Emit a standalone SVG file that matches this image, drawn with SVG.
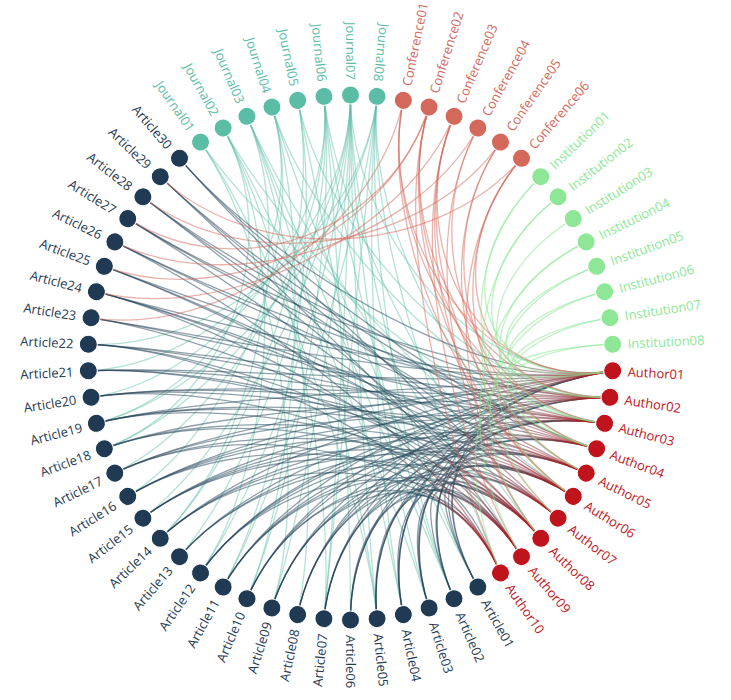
<svg xmlns="http://www.w3.org/2000/svg" width="731" height="700" viewBox="0 0 731 700">
<defs>
<linearGradient id="gAA" x1="0" y1="0" x2="1" y2="0">
<stop offset="0" stop-color="#1f3b54"/><stop offset="0.72" stop-color="#27505f"/><stop offset="1" stop-color="#c0141c"/>
</linearGradient>
<style>
text{font-family:"Open Sans","Liberation Sans",sans-serif;font-size:13px;dominant-baseline:central}
.f{text-anchor:end}
circle{stroke:#fff;stroke-width:1}
.art circle{fill:#1f3a52}.art text{fill:#1f3a52}
.jou circle{fill:#5bbda5}.jou text{fill:#5bbda5}
.con circle{fill:#d4685a}.con text{fill:#d4685a}
.ins circle{fill:#8de796}.ins text{fill:#8de796}
.aut circle{fill:#c0141c}.aut text{fill:#c0141c}
#links path{fill:none;stroke-width:1.3}
#lj path{stroke:#5bbda5;stroke-opacity:.45}
#la path{stroke:url(#gAA);stroke-opacity:.5}
#lc path{stroke:#d4685a;stroke-opacity:.5}
#li path{stroke:#8de796;stroke-opacity:.55}
</style>
</defs>
<rect width="731" height="700" fill="#fff"/>
<g id="links">
<g id="lj">
<path d="M200.5 142.1C275.5 249.8 363.8 488.1 377.1 618.7"/>
<path d="M200.5 142.1C275.5 249.8 311.2 482.8 271.9 608"/>
<path d="M200.5 142.1C275.5 249.8 469.4 412.1 596.7 448.7"/>
<path d="M223.1 128C286.8 242.8 389.8 482.8 429.1 608"/>
<path d="M223.1 128C286.8 242.8 337.2 488.1 323.9 618.7"/>
<path d="M223.1 128C286.8 242.8 275.5 465.2 200.5 572.9"/>
<path d="M223.1 128C286.8 242.8 463.5 424 573.3 496.4"/>
<path d="M223.1 128C286.8 242.8 227.4 403.1 104.3 448.7"/>
<path d="M247 116.3C298.8 236.9 402.3 478.1 454 598.7"/>
<path d="M247 116.3C298.8 236.9 324.1 486.1 297.7 614.6"/>
<path d="M247 116.3C298.8 236.9 255.4 448 160.2 538.4"/>
<path d="M247 116.3C298.8 236.9 450.6 439.1 521.5 556.7"/>
<path d="M247 116.3C298.8 236.9 363.8 488.1 377.1 618.7"/>
<path d="M271.9 107C311.2 232.3 414.2 472.3 477.9 587"/>
<path d="M271.9 107C311.2 232.3 298.8 478.1 247 598.7"/>
<path d="M271.9 107C311.2 232.3 239.1 427 127.7 496.4"/>
<path d="M271.9 107C311.2 232.3 223.5 390.4 96.4 423.3"/>
<path d="M271.9 107C311.2 232.3 471.4 405.7 604.6 423.3"/>
<path d="M297.7 100.4C324.1 229 376.9 486.1 403.3 614.6"/>
<path d="M297.7 100.4C324.1 229 286.8 472.3 223.1 587"/>
<path d="M297.7 100.4C324.1 229 472.7 399.2 610 397.3"/>
<path d="M297.7 100.4C324.1 229 255.4 448 160.2 538.4"/>
<path d="M323.9 96.3C337.2 226.9 350.5 488.8 350.5 620"/>
<path d="M323.9 96.3C337.2 226.9 265 457.1 179.5 556.7"/>
<path d="M323.9 96.3C337.2 226.9 232.7 415.3 114.8 473.1"/>
<path d="M323.9 96.3C337.2 226.9 220.8 377.4 91 397.3"/>
<path d="M323.9 96.3C337.2 226.9 455.4 434.5 540.8 538.4"/>
<path d="M323.9 96.3C337.2 226.9 402.3 478.1 454 598.7"/>
<path d="M323.9 96.3C337.2 226.9 298.8 478.1 247 598.7"/>
<path d="M350.5 95C350.5 226.3 414.2 472.3 477.9 587"/>
<path d="M350.5 95C350.5 226.3 389.8 482.8 429.1 608"/>
<path d="M350.5 95C350.5 226.3 363.8 488.1 377.1 618.7"/>
<path d="M350.5 95C350.5 226.3 311.2 482.8 271.9 608"/>
<path d="M350.5 95C350.5 226.3 246.7 437.8 142.9 518.1"/>
<path d="M350.5 95C350.5 226.3 227.4 403.1 104.3 448.7"/>
<path d="M350.5 95C350.5 226.3 219.4 364.2 88.3 370.8"/>
<path d="M350.5 95C350.5 226.3 473.4 392.6 612.7 370.8"/>
<path d="M350.5 95C350.5 226.3 337.2 488.1 323.9 618.7"/>
<path d="M350.5 95C350.5 226.3 275.5 465.2 200.5 572.9"/>
<path d="M377.1 96.3C363.8 226.9 402.3 478.1 454 598.7"/>
<path d="M377.1 96.3C363.8 226.9 337.2 488.1 323.9 618.7"/>
<path d="M377.1 96.3C363.8 226.9 286.8 472.3 223.1 587"/>
<path d="M377.1 96.3C363.8 226.9 219.4 350.9 88.3 344.2"/>
<path d="M377.1 96.3C363.8 226.9 466.8 418.2 586.2 473.1"/>
<path d="M377.1 96.3C363.8 226.9 445.3 443.1 500.5 572.9"/>
<path d="M377.1 96.3C363.8 226.9 376.9 486.1 403.3 614.6"/>
<path d="M377.1 96.3C363.8 226.9 223.5 390.4 96.4 423.3"/>
</g>
<g id="la">
<path d="M477.9 587C414.2 472.3 471.4 405.7 604.6 423.3"/>
<path d="M477.9 587C414.2 472.3 459.7 429.4 558.1 518.1"/>
<path d="M477.9 587C414.2 472.3 450.6 439.1 521.5 556.7"/>
<path d="M477.9 587C414.2 472.3 473.4 392.6 612.7 370.8"/>
<path d="M454 598.7C402.3 478.1 473.4 392.6 612.7 370.8"/>
<path d="M454 598.7C402.3 478.1 466.8 418.2 586.2 473.1"/>
<path d="M454 598.7C402.3 478.1 445.3 443.1 500.5 572.9"/>
<path d="M454 598.7C402.3 478.1 471.4 405.7 604.6 423.3"/>
<path d="M429.1 608C389.8 482.8 472.7 399.2 610 397.3"/>
<path d="M429.1 608C389.8 482.8 469.4 412.1 596.7 448.7"/>
<path d="M429.1 608C389.8 482.8 455.4 434.5 540.8 538.4"/>
<path d="M429.1 608C389.8 482.8 463.5 424 573.3 496.4"/>
<path d="M403.3 614.6C376.9 486.1 473.4 392.6 612.7 370.8"/>
<path d="M403.3 614.6C376.9 486.1 463.5 424 573.3 496.4"/>
<path d="M403.3 614.6C376.9 486.1 450.6 439.1 521.5 556.7"/>
<path d="M403.3 614.6C376.9 486.1 472.7 399.2 610 397.3"/>
<path d="M377.1 618.7C363.8 488.1 471.4 405.7 604.6 423.3"/>
<path d="M377.1 618.7C363.8 488.1 466.8 418.2 586.2 473.1"/>
<path d="M377.1 618.7C363.8 488.1 459.7 429.4 558.1 518.1"/>
<path d="M377.1 618.7C363.8 488.1 450.6 439.1 521.5 556.7"/>
<path d="M350.5 620C350.5 488.8 472.7 399.2 610 397.3"/>
<path d="M350.5 620C350.5 488.8 455.4 434.5 540.8 538.4"/>
<path d="M350.5 620C350.5 488.8 445.3 443.1 500.5 572.9"/>
<path d="M350.5 620C350.5 488.8 469.4 412.1 596.7 448.7"/>
<path d="M323.9 618.7C337.2 488.1 473.4 392.6 612.7 370.8"/>
<path d="M323.9 618.7C337.2 488.1 469.4 412.1 596.7 448.7"/>
<path d="M323.9 618.7C337.2 488.1 463.5 424 573.3 496.4"/>
<path d="M323.9 618.7C337.2 488.1 450.6 439.1 521.5 556.7"/>
<path d="M297.7 614.6C324.1 486.1 471.4 405.7 604.6 423.3"/>
<path d="M297.7 614.6C324.1 486.1 450.6 439.1 521.5 556.7"/>
<path d="M297.7 614.6C324.1 486.1 473.4 392.6 612.7 370.8"/>
<path d="M297.7 614.6C324.1 486.1 463.5 424 573.3 496.4"/>
<path d="M271.9 608C311.2 482.8 472.7 399.2 610 397.3"/>
<path d="M271.9 608C311.2 482.8 466.8 418.2 586.2 473.1"/>
<path d="M271.9 608C311.2 482.8 459.7 429.4 558.1 518.1"/>
<path d="M271.9 608C311.2 482.8 445.3 443.1 500.5 572.9"/>
<path d="M247 598.7C298.8 478.1 473.4 392.6 612.7 370.8"/>
<path d="M247 598.7C298.8 478.1 455.4 434.5 540.8 538.4"/>
<path d="M247 598.7C298.8 478.1 445.3 443.1 500.5 572.9"/>
<path d="M247 598.7C298.8 478.1 471.4 405.7 604.6 423.3"/>
<path d="M223.1 587C286.8 472.3 469.4 412.1 596.7 448.7"/>
<path d="M223.1 587C286.8 472.3 463.5 424 573.3 496.4"/>
<path d="M223.1 587C286.8 472.3 473.4 392.6 612.7 370.8"/>
<path d="M223.1 587C286.8 472.3 455.4 434.5 540.8 538.4"/>
<path d="M200.5 572.9C275.5 465.2 472.7 399.2 610 397.3"/>
<path d="M200.5 572.9C275.5 465.2 471.4 405.7 604.6 423.3"/>
<path d="M200.5 572.9C275.5 465.2 450.6 439.1 521.5 556.7"/>
<path d="M200.5 572.9C275.5 465.2 466.8 418.2 586.2 473.1"/>
<path d="M179.5 556.7C265 457.1 466.8 418.2 586.2 473.1"/>
<path d="M179.5 556.7C265 457.1 459.7 429.4 558.1 518.1"/>
<path d="M179.5 556.7C265 457.1 472.7 399.2 610 397.3"/>
<path d="M160.2 538.4C255.4 448 473.4 392.6 612.7 370.8"/>
<path d="M160.2 538.4C255.4 448 463.5 424 573.3 496.4"/>
<path d="M160.2 538.4C255.4 448 445.3 443.1 500.5 572.9"/>
<path d="M160.2 538.4C255.4 448 469.4 412.1 596.7 448.7"/>
<path d="M142.9 518.1C246.7 437.8 472.7 399.2 610 397.3"/>
<path d="M142.9 518.1C246.7 437.8 469.4 412.1 596.7 448.7"/>
<path d="M142.9 518.1C246.7 437.8 455.4 434.5 540.8 538.4"/>
<path d="M142.9 518.1C246.7 437.8 463.5 424 573.3 496.4"/>
<path d="M127.7 496.4C239.1 427 471.4 405.7 604.6 423.3"/>
<path d="M127.7 496.4C239.1 427 466.8 418.2 586.2 473.1"/>
<path d="M127.7 496.4C239.1 427 450.6 439.1 521.5 556.7"/>
<path d="M127.7 496.4C239.1 427 473.4 392.6 612.7 370.8"/>
<path d="M114.8 473.1C232.7 415.3 473.4 392.6 612.7 370.8"/>
<path d="M114.8 473.1C232.7 415.3 459.7 429.4 558.1 518.1"/>
<path d="M114.8 473.1C232.7 415.3 445.3 443.1 500.5 572.9"/>
<path d="M114.8 473.1C232.7 415.3 471.4 405.7 604.6 423.3"/>
<path d="M104.3 448.7C227.4 403.1 472.7 399.2 610 397.3"/>
<path d="M104.3 448.7C227.4 403.1 463.5 424 573.3 496.4"/>
<path d="M104.3 448.7C227.4 403.1 455.4 434.5 540.8 538.4"/>
<path d="M96.4 423.3C223.5 390.4 473.4 392.6 612.7 370.8"/>
<path d="M96.4 423.3C223.5 390.4 469.4 412.1 596.7 448.7"/>
<path d="M96.4 423.3C223.5 390.4 455.4 434.5 540.8 538.4"/>
<path d="M96.4 423.3C223.5 390.4 466.8 418.2 586.2 473.1"/>
<path d="M91 397.3C220.8 377.4 472.7 399.2 610 397.3"/>
<path d="M91 397.3C220.8 377.4 471.4 405.7 604.6 423.3"/>
<path d="M91 397.3C220.8 377.4 466.8 418.2 586.2 473.1"/>
<path d="M91 397.3C220.8 377.4 450.6 439.1 521.5 556.7"/>
<path d="M88.3 370.8C219.4 364.2 473.4 392.6 612.7 370.8"/>
<path d="M88.3 370.8C219.4 364.2 463.5 424 573.3 496.4"/>
<path d="M88.3 370.8C219.4 364.2 459.7 429.4 558.1 518.1"/>
<path d="M88.3 370.8C219.4 364.2 471.4 405.7 604.6 423.3"/>
<path d="M88.3 344.2C219.4 350.9 472.7 399.2 610 397.3"/>
<path d="M88.3 344.2C219.4 350.9 469.4 412.1 596.7 448.7"/>
<path d="M88.3 344.2C219.4 350.9 445.3 443.1 500.5 572.9"/>
<path d="M88.3 344.2C219.4 350.9 455.4 434.5 540.8 538.4"/>
<path d="M91 317.8C220.8 337.6 471.4 405.7 604.6 423.3"/>
<path d="M91 317.8C220.8 337.6 455.4 434.5 540.8 538.4"/>
<path d="M91 317.8C220.8 337.6 473.4 392.6 612.7 370.8"/>
<path d="M96.4 291.7C223.5 324.6 473.4 392.6 612.7 370.8"/>
<path d="M96.4 291.7C223.5 324.6 466.8 418.2 586.2 473.1"/>
<path d="M96.4 291.7C223.5 324.6 450.6 439.1 521.5 556.7"/>
<path d="M96.4 291.7C223.5 324.6 463.5 424 573.3 496.4"/>
<path d="M104.3 266.3C227.4 311.9 472.7 399.2 610 397.3"/>
<path d="M104.3 266.3C227.4 311.9 463.5 424 573.3 496.4"/>
<path d="M104.3 266.3C227.4 311.9 459.7 429.4 558.1 518.1"/>
<path d="M114.8 241.9C232.7 299.7 469.4 412.1 596.7 448.7"/>
<path d="M114.8 241.9C232.7 299.7 445.3 443.1 500.5 572.9"/>
<path d="M114.8 241.9C232.7 299.7 472.7 399.2 610 397.3"/>
<path d="M127.7 218.6C239.1 288.1 473.4 392.6 612.7 370.8"/>
<path d="M127.7 218.6C239.1 288.1 471.4 405.7 604.6 423.3"/>
<path d="M127.7 218.6C239.1 288.1 455.4 434.5 540.8 538.4"/>
<path d="M142.9 196.9C246.7 277.2 472.7 399.2 610 397.3"/>
<path d="M142.9 196.9C246.7 277.2 466.8 418.2 586.2 473.1"/>
<path d="M142.9 196.9C246.7 277.2 455.4 434.5 540.8 538.4"/>
<path d="M160.2 176.6C255.4 267.1 469.4 412.1 596.7 448.7"/>
<path d="M160.2 176.6C255.4 267.1 463.5 424 573.3 496.4"/>
<path d="M160.2 176.6C255.4 267.1 450.6 439.1 521.5 556.7"/>
<path d="M179.5 158.3C265 257.9 473.4 392.6 612.7 370.8"/>
<path d="M179.5 158.3C265 257.9 459.7 429.4 558.1 518.1"/>
<path d="M179.5 158.3C265 257.9 469.4 412.1 596.7 448.7"/>
</g>
<g id="lc">
<path d="M403.3 100.4C376.9 229 473.4 392.6 612.7 370.8"/>
<path d="M403.3 100.4C376.9 229 471.4 405.7 604.6 423.3"/>
<path d="M403.3 100.4C376.9 229 463.5 424 573.3 496.4"/>
<path d="M403.3 100.4C376.9 229 220.8 337.6 91 317.8"/>
<path d="M429.1 107C389.8 232.3 472.7 399.2 610 397.3"/>
<path d="M429.1 107C389.8 232.3 469.4 412.1 596.7 448.7"/>
<path d="M429.1 107C389.8 232.3 445.3 443.1 500.5 572.9"/>
<path d="M429.1 107C389.8 232.3 463.5 424 573.3 496.4"/>
<path d="M429.1 107C389.8 232.3 227.4 311.9 104.3 266.3"/>
<path d="M429.1 107C389.8 232.3 239.1 288.1 127.7 218.6"/>
<path d="M454 116.3C402.3 236.9 473.4 392.6 612.7 370.8"/>
<path d="M454 116.3C402.3 236.9 466.8 418.2 586.2 473.1"/>
<path d="M454 116.3C402.3 236.9 459.7 429.4 558.1 518.1"/>
<path d="M454 116.3C402.3 236.9 450.6 439.1 521.5 556.7"/>
<path d="M454 116.3C402.3 236.9 223.5 324.6 96.4 291.7"/>
<path d="M477.9 128C414.2 242.8 471.4 405.7 604.6 423.3"/>
<path d="M477.9 128C414.2 242.8 455.4 434.5 540.8 538.4"/>
<path d="M477.9 128C414.2 242.8 232.7 299.7 114.8 241.9"/>
<path d="M500.5 142.1C425.5 249.8 463.5 424 573.3 496.4"/>
<path d="M500.5 142.1C425.5 249.8 469.4 412.1 596.7 448.7"/>
<path d="M500.5 142.1C425.5 249.8 246.7 277.2 142.9 196.9"/>
<path d="M521.5 158.3C436 257.9 472.7 399.2 610 397.3"/>
<path d="M521.5 158.3C436 257.9 455.4 434.5 540.8 538.4"/>
<path d="M521.5 158.3C436 257.9 466.8 418.2 586.2 473.1"/>
<path d="M521.5 158.3C436 257.9 255.4 267.1 160.2 176.6"/>
</g>
<g id="li">
<path d="M540.8 176.6C445.7 267.1 473.4 392.6 612.7 370.8"/>
<path d="M540.8 176.6C445.7 267.1 466.8 418.2 586.2 473.1"/>
<path d="M558.1 196.9C454.3 277.2 472.7 399.2 610 397.3"/>
<path d="M558.1 196.9C454.3 277.2 459.7 429.4 558.1 518.1"/>
<path d="M573.3 218.6C461.9 288.1 471.4 405.7 604.6 423.3"/>
<path d="M586.2 241.9C468.4 299.7 469.4 412.1 596.7 448.7"/>
<path d="M586.2 241.9C468.4 299.7 450.6 439.1 521.5 556.7"/>
<path d="M596.7 266.3C473.6 311.9 473.4 392.6 612.7 370.8"/>
<path d="M596.7 266.3C473.6 311.9 463.5 424 573.3 496.4"/>
<path d="M604.6 291.7C477.6 324.6 455.4 434.5 540.8 538.4"/>
<path d="M604.6 291.7C477.6 324.6 472.7 399.2 610 397.3"/>
<path d="M610 317.8C480.3 337.6 445.3 443.1 500.5 572.9"/>
<path d="M610 317.8C480.3 337.6 471.4 405.7 604.6 423.3"/>
<path d="M612.7 344.2C481.6 350.9 473.4 392.6 612.7 370.8"/>
<path d="M612.7 344.2C481.6 350.9 469.4 412.1 596.7 448.7"/>
</g>
</g>
<g id="nodes">
<g id="Article06" class="art" transform="rotate(90 350.5 357.5)"><circle cx="613" cy="357.5" r="9"/><text x="628" y="357.5">Article06</text></g>
<g id="Article07" class="art" transform="rotate(95.81 350.5 357.5)"><circle cx="613" cy="357.5" r="9"/><text class="f" x="628" y="357.5" transform="rotate(180 628 357.5)">Article07</text></g>
<g id="Article08" class="art" transform="rotate(101.61 350.5 357.5)"><circle cx="613" cy="357.5" r="9"/><text class="f" x="628" y="357.5" transform="rotate(180 628 357.5)">Article08</text></g>
<g id="Article09" class="art" transform="rotate(107.42 350.5 357.5)"><circle cx="613" cy="357.5" r="9"/><text class="f" x="628" y="357.5" transform="rotate(180 628 357.5)">Article09</text></g>
<g id="Article10" class="art" transform="rotate(113.23 350.5 357.5)"><circle cx="613" cy="357.5" r="9"/><text class="f" x="628" y="357.5" transform="rotate(180 628 357.5)">Article10</text></g>
<g id="Article11" class="art" transform="rotate(119.03 350.5 357.5)"><circle cx="613" cy="357.5" r="9"/><text class="f" x="628" y="357.5" transform="rotate(180 628 357.5)">Article11</text></g>
<g id="Article12" class="art" transform="rotate(124.84 350.5 357.5)"><circle cx="613" cy="357.5" r="9"/><text class="f" x="628" y="357.5" transform="rotate(180 628 357.5)">Article12</text></g>
<g id="Article13" class="art" transform="rotate(130.65 350.5 357.5)"><circle cx="613" cy="357.5" r="9"/><text class="f" x="628" y="357.5" transform="rotate(180 628 357.5)">Article13</text></g>
<g id="Article14" class="art" transform="rotate(136.45 350.5 357.5)"><circle cx="613" cy="357.5" r="9"/><text class="f" x="628" y="357.5" transform="rotate(180 628 357.5)">Article14</text></g>
<g id="Article15" class="art" transform="rotate(142.26 350.5 357.5)"><circle cx="613" cy="357.5" r="9"/><text class="f" x="628" y="357.5" transform="rotate(180 628 357.5)">Article15</text></g>
<g id="Article16" class="art" transform="rotate(148.06 350.5 357.5)"><circle cx="613" cy="357.5" r="9"/><text class="f" x="628" y="357.5" transform="rotate(180 628 357.5)">Article16</text></g>
<g id="Article17" class="art" transform="rotate(153.87 350.5 357.5)"><circle cx="613" cy="357.5" r="9"/><text class="f" x="628" y="357.5" transform="rotate(180 628 357.5)">Article17</text></g>
<g id="Article18" class="art" transform="rotate(159.68 350.5 357.5)"><circle cx="613" cy="357.5" r="9"/><text class="f" x="628" y="357.5" transform="rotate(180 628 357.5)">Article18</text></g>
<g id="Article19" class="art" transform="rotate(165.48 350.5 357.5)"><circle cx="613" cy="357.5" r="9"/><text class="f" x="628" y="357.5" transform="rotate(180 628 357.5)">Article19</text></g>
<g id="Article20" class="art" transform="rotate(171.29 350.5 357.5)"><circle cx="613" cy="357.5" r="9"/><text class="f" x="628" y="357.5" transform="rotate(180 628 357.5)">Article20</text></g>
<g id="Article21" class="art" transform="rotate(177.10 350.5 357.5)"><circle cx="613" cy="357.5" r="9"/><text class="f" x="628" y="357.5" transform="rotate(180 628 357.5)">Article21</text></g>
<g id="Article22" class="art" transform="rotate(182.90 350.5 357.5)"><circle cx="613" cy="357.5" r="9"/><text class="f" x="628" y="357.5" transform="rotate(180 628 357.5)">Article22</text></g>
<g id="Article23" class="art" transform="rotate(188.71 350.5 357.5)"><circle cx="613" cy="357.5" r="9"/><text class="f" x="628" y="357.5" transform="rotate(180 628 357.5)">Article23</text></g>
<g id="Article24" class="art" transform="rotate(194.52 350.5 357.5)"><circle cx="613" cy="357.5" r="9"/><text class="f" x="628" y="357.5" transform="rotate(180 628 357.5)">Article24</text></g>
<g id="Article25" class="art" transform="rotate(200.32 350.5 357.5)"><circle cx="613" cy="357.5" r="9"/><text class="f" x="628" y="357.5" transform="rotate(180 628 357.5)">Article25</text></g>
<g id="Article26" class="art" transform="rotate(206.13 350.5 357.5)"><circle cx="613" cy="357.5" r="9"/><text class="f" x="628" y="357.5" transform="rotate(180 628 357.5)">Article26</text></g>
<g id="Article27" class="art" transform="rotate(211.94 350.5 357.5)"><circle cx="613" cy="357.5" r="9"/><text class="f" x="628" y="357.5" transform="rotate(180 628 357.5)">Article27</text></g>
<g id="Article28" class="art" transform="rotate(217.74 350.5 357.5)"><circle cx="613" cy="357.5" r="9"/><text class="f" x="628" y="357.5" transform="rotate(180 628 357.5)">Article28</text></g>
<g id="Article29" class="art" transform="rotate(223.55 350.5 357.5)"><circle cx="613" cy="357.5" r="9"/><text class="f" x="628" y="357.5" transform="rotate(180 628 357.5)">Article29</text></g>
<g id="Article30" class="art" transform="rotate(229.35 350.5 357.5)"><circle cx="613" cy="357.5" r="9"/><text class="f" x="628" y="357.5" transform="rotate(180 628 357.5)">Article30</text></g>
<g id="Journal01" class="jou" transform="rotate(235.16 350.5 357.5)"><circle cx="613" cy="357.5" r="9"/><text class="f" x="628" y="357.5" transform="rotate(180 628 357.5)">Journal01</text></g>
<g id="Journal02" class="jou" transform="rotate(240.97 350.5 357.5)"><circle cx="613" cy="357.5" r="9"/><text class="f" x="628" y="357.5" transform="rotate(180 628 357.5)">Journal02</text></g>
<g id="Journal03" class="jou" transform="rotate(246.77 350.5 357.5)"><circle cx="613" cy="357.5" r="9"/><text class="f" x="628" y="357.5" transform="rotate(180 628 357.5)">Journal03</text></g>
<g id="Journal04" class="jou" transform="rotate(252.58 350.5 357.5)"><circle cx="613" cy="357.5" r="9"/><text class="f" x="628" y="357.5" transform="rotate(180 628 357.5)">Journal04</text></g>
<g id="Journal05" class="jou" transform="rotate(258.39 350.5 357.5)"><circle cx="613" cy="357.5" r="9"/><text class="f" x="628" y="357.5" transform="rotate(180 628 357.5)">Journal05</text></g>
<g id="Journal06" class="jou" transform="rotate(264.19 350.5 357.5)"><circle cx="613" cy="357.5" r="9"/><text class="f" x="628" y="357.5" transform="rotate(180 628 357.5)">Journal06</text></g>
<g id="Journal07" class="jou" transform="rotate(270 350.5 357.5)"><circle cx="613" cy="357.5" r="9"/><text class="f" x="628" y="357.5" transform="rotate(180 628 357.5)">Journal07</text></g>
<g id="Journal08" class="jou" transform="rotate(275.81 350.5 357.5)"><circle cx="613" cy="357.5" r="9"/><text class="f" x="628" y="357.5" transform="rotate(180 628 357.5)">Journal08</text></g>
<g id="Conference01" class="con" transform="rotate(281.61 350.5 357.5)"><circle cx="613" cy="357.5" r="9"/><text x="628" y="357.5">Conference01</text></g>
<g id="Conference02" class="con" transform="rotate(287.42 350.5 357.5)"><circle cx="613" cy="357.5" r="9"/><text x="628" y="357.5">Conference02</text></g>
<g id="Conference03" class="con" transform="rotate(293.23 350.5 357.5)"><circle cx="613" cy="357.5" r="9"/><text x="628" y="357.5">Conference03</text></g>
<g id="Conference04" class="con" transform="rotate(299.03 350.5 357.5)"><circle cx="613" cy="357.5" r="9"/><text x="628" y="357.5">Conference04</text></g>
<g id="Conference05" class="con" transform="rotate(304.84 350.5 357.5)"><circle cx="613" cy="357.5" r="9"/><text x="628" y="357.5">Conference05</text></g>
<g id="Conference06" class="con" transform="rotate(310.65 350.5 357.5)"><circle cx="613" cy="357.5" r="9"/><text x="628" y="357.5">Conference06</text></g>
<g id="Institution01" class="ins" transform="rotate(316.45 350.5 357.5)"><circle cx="613" cy="357.5" r="9"/><text x="628" y="357.5">Institution01</text></g>
<g id="Institution02" class="ins" transform="rotate(322.26 350.5 357.5)"><circle cx="613" cy="357.5" r="9"/><text x="628" y="357.5">Institution02</text></g>
<g id="Institution03" class="ins" transform="rotate(328.06 350.5 357.5)"><circle cx="613" cy="357.5" r="9"/><text x="628" y="357.5">Institution03</text></g>
<g id="Institution04" class="ins" transform="rotate(333.87 350.5 357.5)"><circle cx="613" cy="357.5" r="9"/><text x="628" y="357.5">Institution04</text></g>
<g id="Institution05" class="ins" transform="rotate(339.68 350.5 357.5)"><circle cx="613" cy="357.5" r="9"/><text x="628" y="357.5">Institution05</text></g>
<g id="Institution06" class="ins" transform="rotate(345.48 350.5 357.5)"><circle cx="613" cy="357.5" r="9"/><text x="628" y="357.5">Institution06</text></g>
<g id="Institution07" class="ins" transform="rotate(351.29 350.5 357.5)"><circle cx="613" cy="357.5" r="9"/><text x="628" y="357.5">Institution07</text></g>
<g id="Institution08" class="ins" transform="rotate(357.10 350.5 357.5)"><circle cx="613" cy="357.5" r="9"/><text x="628" y="357.5">Institution08</text></g>
<g id="Author01" class="aut" transform="rotate(2.90 350.5 357.5)"><circle cx="613" cy="357.5" r="9"/><text x="628" y="357.5">Author01</text></g>
<g id="Author02" class="aut" transform="rotate(8.71 350.5 357.5)"><circle cx="613" cy="357.5" r="9"/><text x="628" y="357.5">Author02</text></g>
<g id="Author03" class="aut" transform="rotate(14.52 350.5 357.5)"><circle cx="613" cy="357.5" r="9"/><text x="628" y="357.5">Author03</text></g>
<g id="Author04" class="aut" transform="rotate(20.32 350.5 357.5)"><circle cx="613" cy="357.5" r="9"/><text x="628" y="357.5">Author04</text></g>
<g id="Author05" class="aut" transform="rotate(26.13 350.5 357.5)"><circle cx="613" cy="357.5" r="9"/><text x="628" y="357.5">Author05</text></g>
<g id="Author06" class="aut" transform="rotate(31.94 350.5 357.5)"><circle cx="613" cy="357.5" r="9"/><text x="628" y="357.5">Author06</text></g>
<g id="Author07" class="aut" transform="rotate(37.74 350.5 357.5)"><circle cx="613" cy="357.5" r="9"/><text x="628" y="357.5">Author07</text></g>
<g id="Author08" class="aut" transform="rotate(43.55 350.5 357.5)"><circle cx="613" cy="357.5" r="9"/><text x="628" y="357.5">Author08</text></g>
<g id="Author09" class="aut" transform="rotate(49.35 350.5 357.5)"><circle cx="613" cy="357.5" r="9"/><text x="628" y="357.5">Author09</text></g>
<g id="Author10" class="aut" transform="rotate(55.16 350.5 357.5)"><circle cx="613" cy="357.5" r="9"/><text x="628" y="357.5">Author10</text></g>
<g id="Article01" class="art" transform="rotate(60.97 350.5 357.5)"><circle cx="613" cy="357.5" r="9"/><text x="628" y="357.5">Article01</text></g>
<g id="Article02" class="art" transform="rotate(66.77 350.5 357.5)"><circle cx="613" cy="357.5" r="9"/><text x="628" y="357.5">Article02</text></g>
<g id="Article03" class="art" transform="rotate(72.58 350.5 357.5)"><circle cx="613" cy="357.5" r="9"/><text x="628" y="357.5">Article03</text></g>
<g id="Article04" class="art" transform="rotate(78.39 350.5 357.5)"><circle cx="613" cy="357.5" r="9"/><text x="628" y="357.5">Article04</text></g>
<g id="Article05" class="art" transform="rotate(84.19 350.5 357.5)"><circle cx="613" cy="357.5" r="9"/><text x="628" y="357.5">Article05</text></g>
</g>
</svg>
